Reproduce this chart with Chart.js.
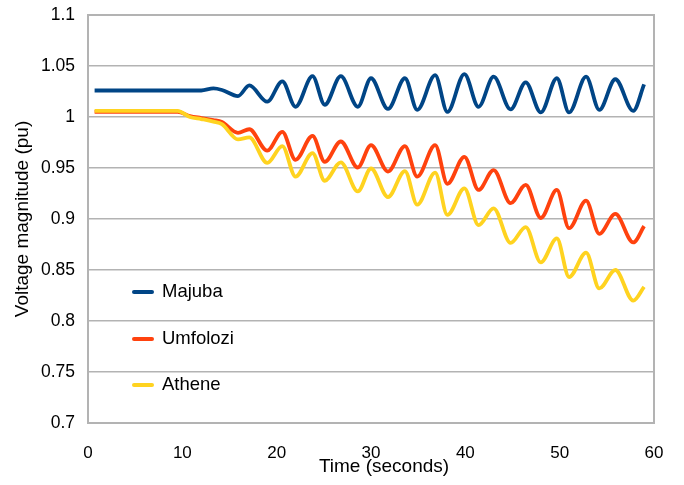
<!DOCTYPE html>
<html>
<head>
<meta charset="utf-8">
<script src="https://cdn.jsdelivr.net/npm/chart.js@4.4.1/dist/chart.umd.min.js"></script>
<style>
  html, body { margin: 0; padding: 0; background: #fff; }
  #wrap { width: 684px; height: 485px; }
</style>
</head>
<body>
<div id="wrap"><canvas id="voltChart" width="684" height="485"></canvas></div>
<script>
// Bus voltages after the disturbance, sampled at the swing peaks and troughs
const timeSec = [0.7, 9.5, 10.8, 12.0, 13.3, 14.2, 15.9, 17.1, 19.0, 20.6, 22.0, 23.8, 25.1, 26.8, 28.6, 30.0, 31.8,
    33.6, 34.9, 36.8, 38.1, 39.9, 41.4, 43.0, 44.8, 46.4, 48.0, 49.7, 51.0, 52.8, 54.2, 55.9, 57.8, 58.95];
const majuba = [1.026, 1.026, 1.026, 1.026, 1.028, 1.0265, 1.0205, 1.031, 1.015, 1.035, 1.010, 1.040, 1.012, 1.040,
    1.010, 1.038, 1.008, 1.038, 1.007, 1.041, 1.005, 1.042, 1.010, 1.0395, 1.0075, 1.034, 1.0045, 1.038, 1.0045,
    1.0395, 1.007, 1.037, 1.006, 1.032];
const umfolozi = [1.005, 1.005, 1.001, 0.999, 0.997, 0.995, 0.9845, 0.988, 0.967, 0.9855, 0.958, 0.9815, 0.956, 0.976,
    0.9505, 0.9725, 0.9465, 0.9715, 0.9415, 0.9725, 0.9345, 0.961, 0.9285, 0.948, 0.9155, 0.9335, 0.901, 0.9285,
    0.891, 0.918, 0.8855, 0.905, 0.877, 0.893];
const athene = [1.006, 1.006, 1.0, 0.998, 0.9955, 0.993, 0.978, 0.980, 0.955, 0.9715, 0.9415, 0.9645, 0.9375, 0.9555,
    0.927, 0.9495, 0.9215, 0.947, 0.914, 0.9455, 0.904, 0.930, 0.894, 0.9105, 0.8765, 0.892, 0.8575, 0.881,
    0.843, 0.867, 0.832, 0.850, 0.820, 0.8335];

const seriesNames = ['Majuba', 'Umfolozi', 'Athene'];
const xTicks = [0, 10, 20, 30, 40, 50, 60];
const yTicks = [0.7, 0.75, 0.8, 0.85, 0.9, 0.95, 1.0, 1.05, 1.1];
const yTickLabels = ['0.7', '0.75', '0.8', '0.85', '0.9', '0.95', '1', '1.05', '1.1'];
const xTitle = 'Time (seconds)';

const FONT = '"Liberation Sans", Arial, sans-serif';
const GRID = '#b3b3b3';

const toPoints = values => values.map((v, i) => ({ x: timeSec[i], y: v }));

// box round the plot area
const frame = {
    id: 'frame',
    beforeDatasetsDraw(chart) {
        const { ctx, chartArea: a } = chart;
        ctx.save();
        ctx.strokeStyle = GRID;
        ctx.lineWidth = 2;
        ctx.strokeRect(a.left, a.top, a.right - a.left, a.bottom - a.top);
        ctx.restore();
    }
};

// legend sits inside the plot, one entry per row; x title sits a bit right of centre
const insideLegend = {
    id: 'insideLegend',
    afterDraw(chart) {
        const { ctx } = chart;
        const rows = [292, 339, 385];
        ctx.save();
        ctx.font = '18.5px ' + FONT;
        ctx.textBaseline = 'middle';
        chart.data.datasets.forEach((ds, i) => {
            ctx.strokeStyle = ds.borderColor;
            ctx.lineWidth = 4;
            ctx.lineCap = 'round';
            ctx.beginPath();
            ctx.moveTo(134, rows[i]);
            ctx.lineTo(152, rows[i]);
            ctx.stroke();
            ctx.fillStyle = '#000';
            ctx.fillText(ds.label, 162, rows[i]);
        });
        ctx.font = '19px ' + FONT;
        ctx.textAlign = 'center';
        ctx.fillText(xTitle, 384, 467);
        ctx.restore();
    }
};

const ctx = document.getElementById('voltChart').getContext('2d');
new Chart(ctx, {
    type: 'line',
    data: {
        datasets: [
            { label: seriesNames[0], data: toPoints(majuba), borderColor: '#004586', order: 2 },
            { label: seriesNames[1], data: toPoints(umfolozi), borderColor: '#ff420e', order: 1 },
            { label: seriesNames[2], data: toPoints(athene), borderColor: '#ffd320', order: 0 }
        ].map(ds => Object.assign(ds, {
            borderWidth: 3.8,
            pointRadius: 0,
            fill: false,
            cubicInterpolationMode: 'monotone'
        }))
    },
    options: {
        responsive: false,
        animation: false,
        events: [],
        layout: { padding: { top: 15, right: 30, left: 0, bottom: 0 } },
        plugins: {
            legend: { display: false },
            tooltip: { enabled: false }
        },
        scales: {
            x: {
                type: 'linear',
                min: 0,
                max: 60,
                afterBuildTicks: s => { s.ticks = xTicks.map(v => ({ value: v })); },
                afterFit: s => { s.height = 62; s.paddingLeft = 0; s.paddingRight = 0; },
                grid: { display: false, drawTicks: false },
                border: { display: false },
                ticks: { color: '#000', font: { family: FONT, size: 17 }, padding: 20, maxRotation: 0 }
            },
            y: {
                min: 0.7,
                max: 1.1,
                afterBuildTicks: s => { s.ticks = yTicks.map(v => ({ value: v })); },
                afterFit: s => { s.width = 88; s.paddingTop = 0; s.paddingBottom = 0; },
                grid: { color: GRID, lineWidth: 1.5, drawTicks: false },
                border: { display: false },
                ticks: {
                    color: '#000',
                    font: { family: FONT, size: 17.5 },
                    padding: 13,
                    callback: (v, i) => yTickLabels[i]
                },
                title: {
                    display: true,
                    text: 'Voltage magnitude (pu)',
                    color: '#000',
                    font: { family: FONT, size: 19 },
                    padding: { top: 11, bottom: 0 }
                }
            }
        }
    },
    plugins: [frame, insideLegend]
});
</script>
</body>
</html>
